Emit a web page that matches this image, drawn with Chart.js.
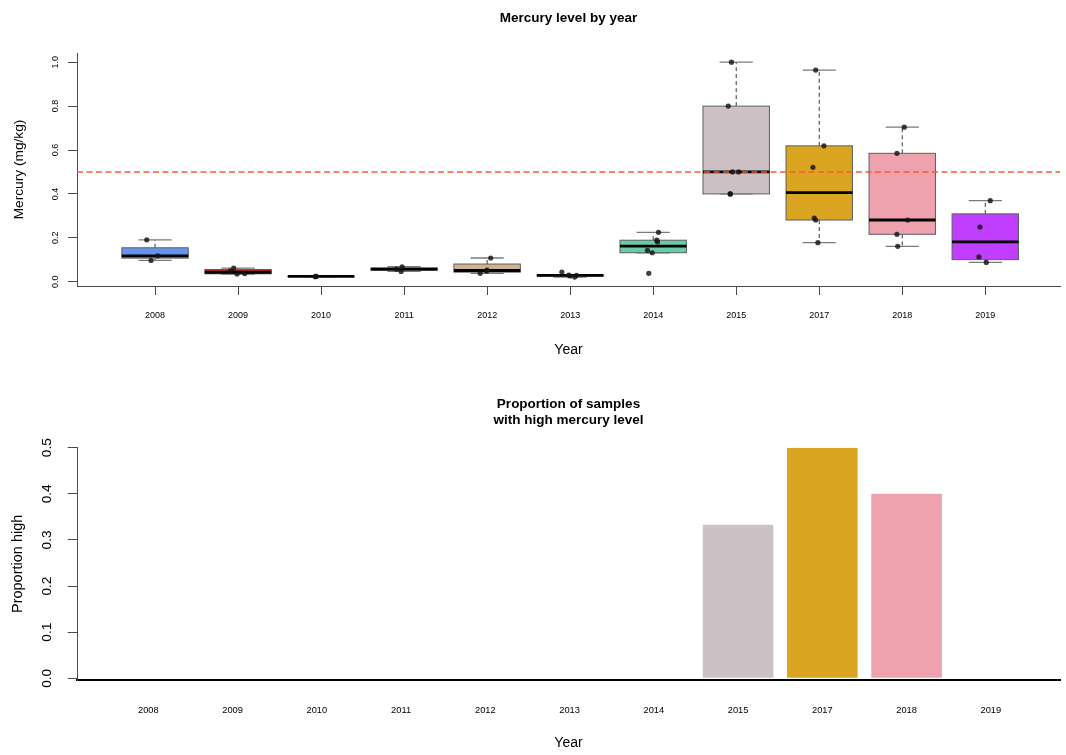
<!DOCTYPE html>
<html>
<head>
<meta charset="utf-8">
<title>Mercury level by year</title>
<script src="https://cdn.jsdelivr.net/npm/chart.js@4/dist/chart.umd.min.js"></script>
<style>
  html, body { margin: 0; padding: 0; background: #ffffff; }
  #wrap { position: relative; width: 1066px; height: 755px; overflow: hidden; }
  canvas { position: absolute; left: 0; }
  #topChart { top: 0; }
  #bottomChart { top: 377px; }
</style>
</head>
<body>
<div id="wrap">
  <canvas id="topChart" width="1066" height="377"></canvas>
  <canvas id="bottomChart" width="1066" height="378"></canvas>
</div>
<script>
// ---- data ---------------------------------------------------------------
const years = ['2008', '2009', '2010', '2011', '2012', '2013', '2014', '2015', '2017', '2018', '2019'];

// mercury measurements (mg/kg) for each year
const hg2008 = [0.191, 0.118, 0.097];
const hg2009 = [0.062, 0.049, 0.035, 0.037];
const hg2010 = [0.023, 0.024, 0.024];
const hg2011 = [0.068, 0.047, 0.057];
const hg2012 = [0.108, 0.053, 0.049, 0.038];
const hg2013 = [0.044, 0.030, 0.026, 0.021, 0.029];
const hg2014 = [0.225, 0.189, 0.181, 0.143, 0.132, 0.038];
const hg2015 = [1.000, 0.800, 0.500, 0.500, 0.400, 0.400];
const hg2017 = [0.964, 0.619, 0.521, 0.290, 0.281, 0.178];
const hg2018 = [0.704, 0.585, 0.281, 0.216, 0.161];
const hg2019 = [0.369, 0.249, 0.113, 0.088];

// horizontal jitter of each sample point (in category units)
const jit2008 = [-0.10, 0.033, -0.048];
const jit2009 = [-0.053, -0.093, -0.012, 0.080];
const jit2010 = [-0.070, -0.065, -0.060];
const jit2011 = [-0.024, -0.036, -0.093];
const jit2012 = [0.043, 0.000, -0.008, -0.084];
const jit2013 = [-0.100, -0.017, 0.000, 0.055, 0.076];
const jit2014 = [0.064, 0.043, 0.052, -0.069, -0.012, -0.053];
const jit2015 = [-0.057, -0.096, -0.045, 0.028, -0.072, -0.072];
const jit2017 = [-0.043, 0.057, -0.076, -0.060, -0.043, -0.016];
const jit2018 = [0.024, -0.064, 0.065, -0.064, -0.055];
const jit2019 = [0.060, -0.064, -0.076, 0.012];

const mercury = [hg2008, hg2009, hg2010, hg2011, hg2012, hg2013, hg2014, hg2015, hg2017, hg2018, hg2019];
const jitter  = [jit2008, jit2009, jit2010, jit2011, jit2012, jit2013, jit2014, jit2015, jit2017, jit2018, jit2019];

// share of samples above the limit, per year
const propHigh = [0, 0, 0, 0, 0, 0, 0, 0.333, 0.5, 0.4, 0];

const limit = 0.5;
const mercuryTicks = [0, 0.2, 0.4, 0.6, 0.8, 1.0];
const propTicks = [0, 0.1, 0.2, 0.3, 0.4, 0.5];

const yearColors = ['#6495ED', '#CD2626', '#8B8682', '#9C9C9C', '#D2B48C', '#7A7A7A',
                    '#66CDAA', '#CDC1C5', '#DAA520', '#EEA2AD', '#BF3EFF'];

// ---- helpers ------------------------------------------------------------
const FONT = '"Liberation Sans", Arial, Helvetica, sans-serif';

// Tukey five-number summary, as used by classic boxplots
function fivenum(v) {
  const x = v.slice().sort((a, b) => a - b);
  const n = x.length;
  const n4 = Math.floor((n + 3) / 2) / 2;
  const d = [1, n4, (n + 1) / 2, n + 1 - n4, n];
  return d.map(p => 0.5 * (x[Math.floor(p) - 1] + x[Math.ceil(p) - 1]));
}
function boxStats(v) {
  const [mn, q1, med, q3, mx] = fivenum(v);
  const iqr = q3 - q1;
  const loF = q1 - 1.5 * iqr, hiF = q3 + 1.5 * iqr;
  const inside = v.filter(a => a >= loF - 1e-12 && a <= hiF + 1e-12);
  return { q1, med, q3, lo: Math.min(...inside), hi: Math.max(...inside) };
}

// box-and-whisker layer, positioned through the chart scales
const boxPlugin = {
  id: 'boxes',
  beforeDatasetsDraw(chart) {
    const { ctx, chartArea, scales: { x, y } } = chart;
    ctx.save();
    ctx.beginPath();
    ctx.rect(chartArea.left, chartArea.top, chartArea.width, chartArea.height);
    ctx.clip();
    mercury.forEach((vals, i) => {
      const s = boxStats(vals);
      const c = i + 1;
      const xl = x.getPixelForValue(c - 0.4), xr = x.getPixelForValue(c + 0.4);
      const cl = x.getPixelForValue(c - 0.2), cr = x.getPixelForValue(c + 0.2);
      const xc = x.getPixelForValue(c);
      const pq1 = y.getPixelForValue(s.q1), pq3 = y.getPixelForValue(s.q3);
      const pmed = y.getPixelForValue(s.med);
      const plo = y.getPixelForValue(s.lo), phi = y.getPixelForValue(s.hi);

      // whiskers
      ctx.strokeStyle = '#3a3a3a';
      ctx.lineWidth = 1;
      ctx.setLineDash([4, 3]);
      ctx.beginPath();
      ctx.moveTo(xc, pq3); ctx.lineTo(xc, phi);
      ctx.moveTo(xc, pq1); ctx.lineTo(xc, plo);
      ctx.stroke();
      ctx.setLineDash([]);

      // staples
      ctx.strokeStyle = '#7a7a7a';
      ctx.lineWidth = 1.3;
      ctx.beginPath();
      ctx.moveTo(cl, phi); ctx.lineTo(cr, phi);
      ctx.moveTo(cl, plo); ctx.lineTo(cr, plo);
      ctx.stroke();

      // box
      ctx.fillStyle = yearColors[i];
      ctx.fillRect(xl, pq3, xr - xl, pq1 - pq3);
      ctx.strokeStyle = '#5e5e5e';
      ctx.lineWidth = 1;
      ctx.strokeRect(xl, pq3, xr - xl, pq1 - pq3);

      // median
      ctx.strokeStyle = '#000000';
      ctx.lineWidth = 2.8;
      ctx.beginPath();
      ctx.moveTo(xl, pmed); ctx.lineTo(xr, pmed);
      ctx.stroke();
    });
    ctx.restore();
  }
};

// ---- top panel: boxplots ------------------------------------------------
const X1_MIN = 0.06, X1_MAX = 11.9;
const Y1_MIN = -0.0196, Y1_MAX = 1.042;

const samplePoints = [];
mercury.forEach((vals, i) => {
  vals.forEach((v, k) => samplePoints.push({ x: i + 1 + jitter[i][k], y: v }));
});

new Chart(document.getElementById('topChart'), {
  type: 'scatter',
  data: {
    datasets: [
      {
        type: 'scatter',
        data: samplePoints,
        pointRadius: 2.6,
        pointBackgroundColor: 'rgba(20,20,20,0.82)',
        pointBorderWidth: 0,
        order: 0
      },
      {
        type: 'line',
        data: [{ x: X1_MIN, y: limit }, { x: X1_MAX, y: limit }],
        borderColor: 'rgb(255,88,48)',
        borderWidth: 1.6,
        borderDash: [6, 3.5],
        pointRadius: 0,
        fill: false,
        order: 1
      }
    ]
  },
  options: {
    responsive: false,
    animation: false,
    events: [],
    layout: { padding: { left: 0, right: 6, top: 0, bottom: 0 } },
    plugins: {
      legend: { display: false },
      tooltip: { enabled: false },
      title: {
        display: true,
        text: 'Mercury level by year',
        fullSize: false,
        color: '#000',
        font: { family: FONT, size: 13.5, weight: 'bold', lineHeight: 1.2 },
        padding: { top: 9.9, bottom: 26.9 }
      }
    },
    scales: {
      x: {
        type: 'linear',
        min: X1_MIN,
        max: X1_MAX,
        afterBuildTicks: s => { s.ticks = years.map((_, i) => ({ value: i + 1 })); },
        afterFit: s => { s.height = 377 - 286; },
        ticks: {
          callback: v => years[v - 1],
          autoSkip: false,
          maxRotation: 0,
          color: '#000',
          padding: 15.6,
          font: { family: FONT, size: 9, lineHeight: 1.2 }
        },
        grid: { drawOnChartArea: false, drawTicks: true, tickLength: 9, color: '#4a4a4a', lineWidth: 1 },
        border: { display: true, color: '#4a4a4a', width: 1 },
        title: {
          display: true,
          text: 'Year',
          color: '#000',
          font: { family: FONT, size: 14, lineHeight: 1.2 },
          padding: { top: 0, bottom: 18.6 }
        }
      },
      y: {
        type: 'linear',
        min: Y1_MIN,
        max: Y1_MAX,
        afterBuildTicks: s => { s.ticks = mercuryTicks.map(v => ({ value: v })); },
        afterFit: s => { s.width = 77; },
        ticks: {
          callback: v => v.toFixed(1),
          minRotation: 90,
          maxRotation: 90,
          crossAlign: 'center',
          color: '#000',
          padding: 6.5,
          font: { family: FONT, size: 9, lineHeight: 1.2 }
        },
        grid: { drawOnChartArea: false, drawTicks: true, tickLength: 9, color: '#4a4a4a', lineWidth: 1 },
        border: { display: true, color: '#4a4a4a', width: 1 },
        title: {
          display: true,
          text: 'Mercury (mg/kg)',
          color: '#000',
          font: { family: FONT, size: 13.7, lineHeight: 1.2 },
          padding: { top: 11, bottom: 0 }
        }
      }
    }
  },
  plugins: [boxPlugin]
});

// ---- bottom panel: proportion above the limit ---------------------------
const X2_MIN = 0.1537, X2_MAX = 11.821;
const Y2_MIN = -0.0037, Y2_MAX = 0.5;

new Chart(document.getElementById('bottomChart'), {
  type: 'bar',
  data: {
    datasets: [{
      data: propHigh.map((p, i) => ({ x: i + 1, y: p })),
      backgroundColor: yearColors,
      borderWidth: 0,
      inflateAmount: 0,
      barPercentage: 0.838,
      categoryPercentage: 1.0
    }]
  },
  options: {
    responsive: false,
    animation: false,
    events: [],
    layout: { padding: { left: 0, right: 6, top: 0, bottom: 0 } },
    plugins: {
      legend: { display: false },
      tooltip: { enabled: false },
      title: {
        display: true,
        text: ['Proportion of samples', 'with high mercury level'],
        fullSize: false,
        color: '#000',
        font: { family: FONT, size: 13.5, weight: 'bold', lineHeight: 1.163 },
        padding: { top: 19.75, bottom: 19.55 }
      }
    },
    scales: {
      x: {
        type: 'linear',
        offset: false,
        min: X2_MIN,
        max: X2_MAX,
        afterBuildTicks: s => { s.ticks = years.map((_, i) => ({ value: i + 1 })); },
        afterFit: s => { s.height = 378 - 303; },
        ticks: {
          callback: v => years[v - 1],
          autoSkip: false,
          maxRotation: 0,
          color: '#000',
          padding: 25.1,
          font: { family: FONT, size: 9.3, lineHeight: 1.2 }
        },
        grid: { display: true, drawOnChartArea: false, drawTicks: false },
        border: { display: true, color: '#000', width: 2 },
        title: {
          display: true,
          text: 'Year',
          color: '#000',
          font: { family: FONT, size: 14, lineHeight: 1.2 },
          padding: { top: 0, bottom: 3.6 }
        }
      },
      y: {
        type: 'linear',
        min: Y2_MIN,
        max: Y2_MAX,
        afterBuildTicks: s => { s.ticks = propTicks.map(v => ({ value: v })); },
        afterFit: s => { s.width = 77; },
        ticks: {
          callback: v => v.toFixed(1),
          minRotation: 90,
          maxRotation: 90,
          crossAlign: 'center',
          color: '#000',
          padding: 10.7,
          font: { family: FONT, size: 13.7, lineHeight: 1.2 }
        },
        grid: { drawOnChartArea: false, drawTicks: true, tickLength: 9.3, color: '#4a4a4a', lineWidth: 1 },
        border: { display: true, color: '#4a4a4a', width: 1 },
        title: {
          display: true,
          text: 'Proportion high',
          color: '#000',
          font: { family: FONT, size: 14.5, lineHeight: 1.2 },
          padding: { top: 9.2, bottom: 0 }
        }
      }
    }
  }
});
</script>
</body>
</html>
